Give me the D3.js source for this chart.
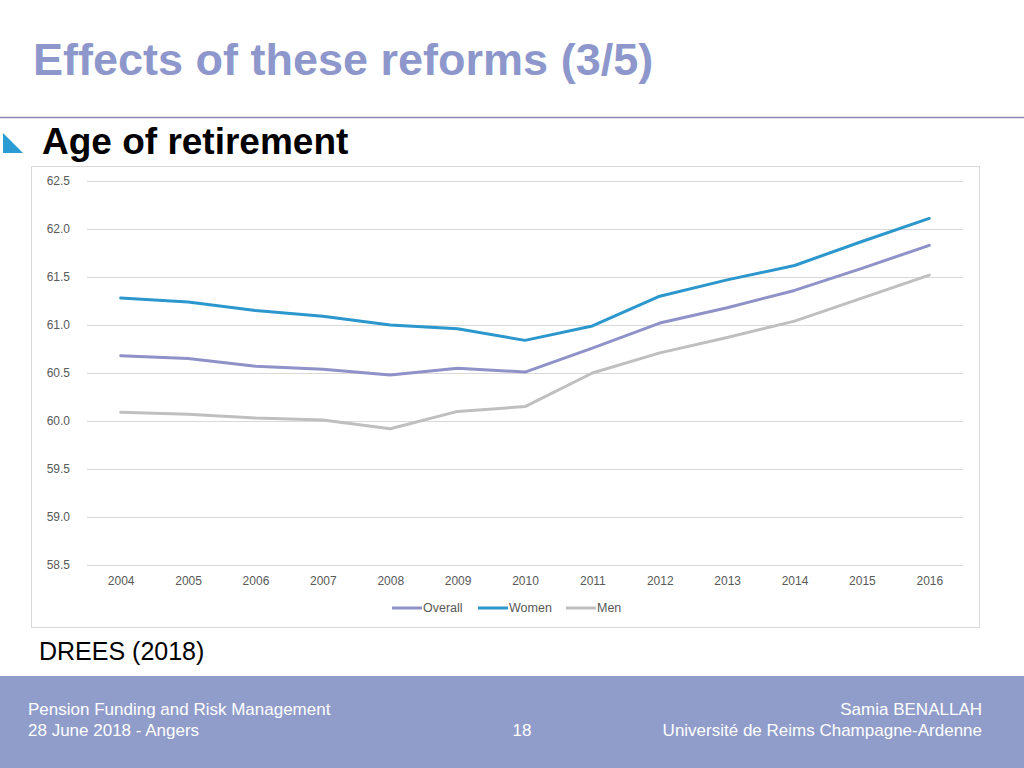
<!DOCTYPE html>
<html><head><meta charset="utf-8">
<script src="https://cdn.jsdelivr.net/npm/d3@7"></script>
<style>
html,body{margin:0;padding:0;background:#fff;}
svg{display:block;font-family:"Liberation Sans",Arial,sans-serif;}
</style></head>
<body>
<svg id="c" width="1024" height="768"></svg>
<script>
const years = [2004,2005,2006,2007,2008,2009,2010,2011,2012,2013,2014,2015,2016];
const overall = [60.68,60.65,60.57,60.54,60.48,60.55,60.51,60.76,61.02,61.18,61.36,61.59,61.83];
const women   = [61.28,61.24,61.15,61.09,61.00,60.96,60.84,60.99,61.30,61.47,61.62,61.87,62.11];
const men     = [60.09,60.07,60.03,60.01,59.92,60.10,60.15,60.50,60.71,60.87,61.04,61.28,61.52];
const yTicks = [58.5,59.0,59.5,60.0,60.5,61.0,61.5,62.0,62.5];
const seriesNames = ["Overall","Women","Men"];
const seriesColors = ["#8e92c8","#2b97cc","#bfbfbf"];

const svg = d3.select("#c");
// title
svg.append("text").attr("x",33).attr("y",75).attr("fill","#8d97cb")
  .attr("font-size",45).attr("font-weight","bold").text("Effects of these reforms (3/5)");
svg.append("line").attr("x1",0).attr("x2",1024).attr("y1",117.5).attr("y2",117.5)
  .attr("stroke","#8a88b3").attr("stroke-width",1.5);
// bullet triangle
svg.append("path").attr("d","M3,133 L23,153 L3,153 Z").attr("fill","#2b9bd3");
svg.append("text").attr("x",42).attr("y",154).attr("fill","#000")
  .attr("font-size",37).attr("font-weight","bold").text("Age of retirement");

// chart box
svg.append("rect").attr("x",31.5).attr("y",166.5).attr("width",948).attr("height",461)
  .attr("fill","#fff").attr("stroke","#d9d9d9").attr("stroke-width",1);

const x = d3.scalePoint().domain(years).range([87,963]).padding(0.5);
const y = d3.scaleLinear().domain([58.5,62.5]).range([565,181]);

const g = svg.append("g");
// gridlines
g.selectAll("line.grid").data(yTicks).join("line")
  .attr("x1",87).attr("x2",963)
  .attr("y1",d=>Math.round(y(d))+0.5).attr("y2",d=>Math.round(y(d))+0.5)
  .attr("stroke","#d9d9d9").attr("stroke-width",1);

const yAxis = d3.axisLeft(y).tickValues(yTicks).tickFormat(d3.format(".1f")).tickSize(0).tickPadding(0);
const ya = g.append("g").attr("transform","translate(70,0)").call(yAxis);
ya.select(".domain").remove();
ya.selectAll("text").attr("fill","#595959").attr("font-size",12).attr("font-family","Liberation Sans,Arial,sans-serif");

const xAxis = d3.axisBottom(x).tickSize(0).tickPadding(0).tickFormat(d3.format("d"));
const xa = g.append("g").attr("transform","translate(0,576)").call(xAxis);
xa.select(".domain").remove();
xa.selectAll("text").attr("fill","#595959").attr("font-size",12).attr("font-family","Liberation Sans,Arial,sans-serif");

const data = [overall, women, men];
const line = d3.line().x((d,i)=>x(years[i])).y(d=>y(d));
[2,0,1].forEach(k=>{
  g.append("path").datum(data[k]).attr("d",line).attr("fill","none")
    .attr("stroke",seriesColors[k]).attr("stroke-width",3).attr("stroke-linejoin","round").attr("stroke-linecap","round");
});

// legend
const legX = [392,478,566];
seriesNames.forEach((n,i)=>{
  svg.append("line").attr("x1",legX[i]).attr("x2",legX[i]+30).attr("y1",608).attr("y2",608)
    .attr("stroke",seriesColors[i]).attr("stroke-width",3);
  svg.append("text").attr("x",legX[i]+31).attr("y",612).attr("fill","#595959")
    .attr("font-size",12.5).text(n);
});

svg.append("text").attr("x",39).attr("y",660).attr("fill","#000").attr("font-size",25).text("DREES (2018)");

// footer
svg.append("rect").attr("x",0).attr("y",676).attr("width",1024).attr("height",92).attr("fill","#909cca");
const ft = svg.append("g").attr("fill","#fff").attr("font-size",17);
ft.append("text").attr("x",28).attr("y",715).text("Pension Funding and Risk Management");
ft.append("text").attr("x",28).attr("y",736).text("28 June 2018 - Angers");
ft.append("text").attr("x",522).attr("y",736).attr("text-anchor","middle").text("18");
ft.append("text").attr("x",982).attr("y",715).attr("text-anchor","end").text("Samia BENALLAH");
ft.append("text").attr("x",982).attr("y",736).attr("text-anchor","end").text("Université de Reims Champagne-Ardenne");
</script>
</body></html>
